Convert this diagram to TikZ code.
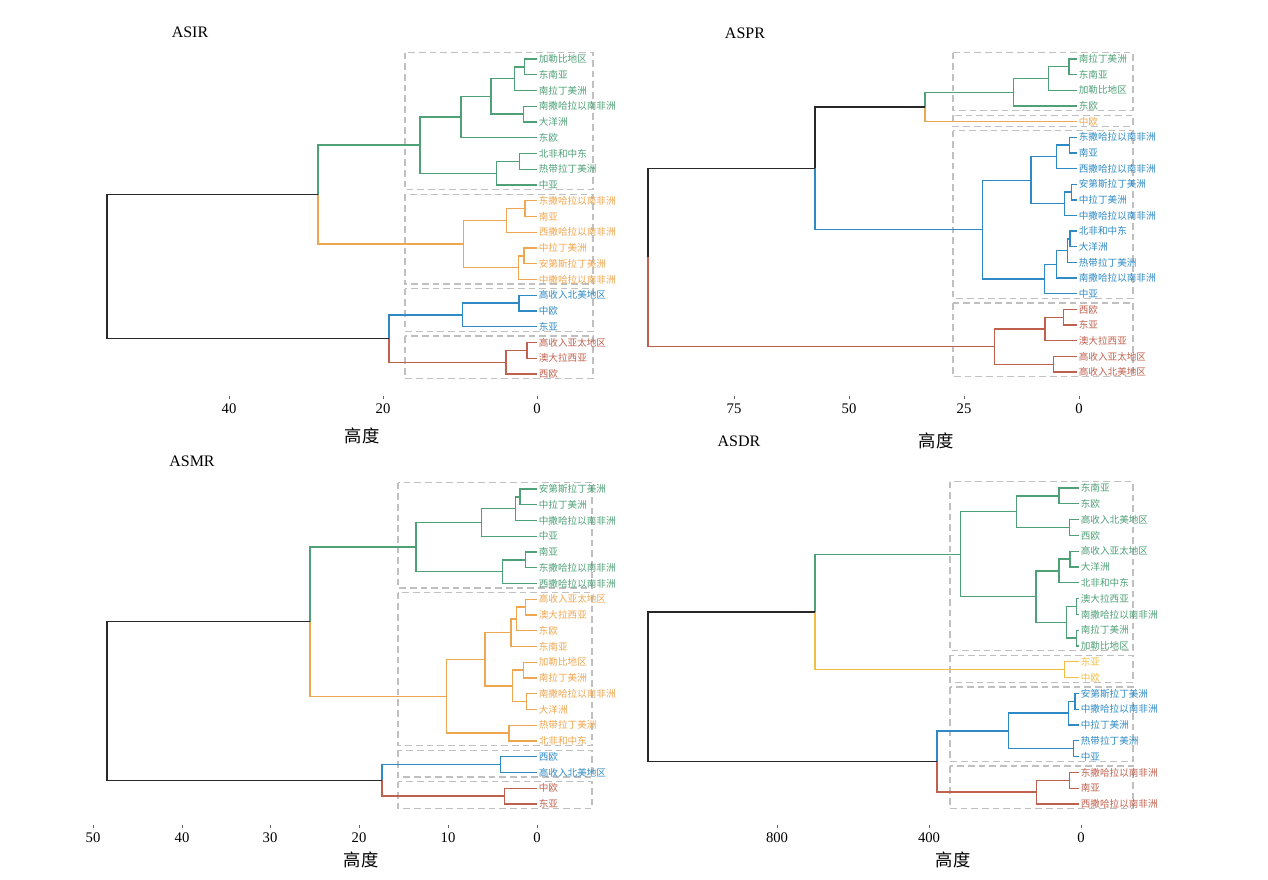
\documentclass[tikz,border=0pt]{standalone}
\usepackage{fontspec}
\setmainfont{Liberation Serif}
\newfontfamily\cjk{Noto Sans CJK SC}
\usetikzlibrary{calc}

\definecolor{grn}{RGB}{78,160,118}
\definecolor{org}{RGB}{238,166,80}
\definecolor{blu}{RGB}{46,138,196}
\definecolor{rdd}{RGB}{192,96,78}
\definecolor{yel}{RGB}{240,190,64}
\definecolor{blk}{RGB}{40,40,40}
\definecolor{boxgray}{RGB}{192,192,192}

% merge point of two branches: name, height (x), child, child
\newcommand{\joinpt}[4]{%
  \coordinate (#1c) at ($(#3)!.5!(#4)$);
  \coordinate (#1) at (#2,0 |- #1c);}

\begin{document}
\begin{tikzpicture}[x=0.75pt, y=-0.75pt]

   \tikzstyle{leaf}=[anchor=west, inner sep=1.2pt, font=\cjk\fontsize{7.2}{8}\selectfont]
   \tikzstyle{glink}=[draw=grn, line width=1pt]
   \tikzstyle{olink}=[draw=org, line width=1pt]
   \tikzstyle{blink}=[draw=blu, line width=1pt]
   \tikzstyle{rlink}=[draw=rdd, line width=1pt]
   \tikzstyle{ylink}=[draw=yel, line width=1pt]
   \tikzstyle{klink}=[draw=blk, line width=1.2pt]
   \tikzstyle{clus}=[draw=boxgray, line width=0.9pt, dash pattern=on 5pt off 3pt]
   \tikzstyle{title}=[font=\fontsize{12}{14}\selectfont]
   \tikzstyle{tick}=[font=\fontsize{11}{13}\selectfont]
   \tikzstyle{axis}=[font=\cjk\fontsize{13}{15}\selectfont]
   \tikzstyle{tickmark}=[draw=black!60, line width=0.6pt]

   \useasboundingbox (0,0) rectangle (1268,879);

   %%% ASIR
   \node[title] (irtitle) at (190,32) {ASIR};
   \draw[clus] (405,52.5) rectangle (593,189.5);
   \draw[clus] (405,194.25) rectangle (593,284);
   \draw[clus] (405,288.75) rectangle (593,331.25);
   \draw[clus] (405,336) rectangle (593,378.5);

   \node[leaf, text=grn] (irL0) at (537,59) {加勒比地区};
   \node[leaf, text=grn] (irL1) at (537,74.75) {东南亚};
   \node[leaf, text=grn] (irL2) at (537,90.5) {南拉丁美洲};
   \node[leaf, text=grn] (irL3) at (537,106.25) {南撒哈拉以南非洲};
   \node[leaf, text=grn] (irL4) at (537,122) {大洋洲};
   \node[leaf, text=grn] (irL5) at (537,137.75) {东欧};
   \node[leaf, text=grn] (irL6) at (537,153.5) {北非和中东};
   \node[leaf, text=grn] (irL7) at (537,169.25) {热带拉丁美洲};
   \node[leaf, text=grn] (irL8) at (537,185) {中亚};
   \node[leaf, text=org] (irL9) at (537,200.75) {东撒哈拉以南非洲};
   \node[leaf, text=org] (irL10) at (537,216.5) {南亚};
   \node[leaf, text=org] (irL11) at (537,232.25) {西撒哈拉以南非洲};
   \node[leaf, text=org] (irL12) at (537,248) {中拉丁美洲};
   \node[leaf, text=org] (irL13) at (537,263.75) {安第斯拉丁美洲};
   \node[leaf, text=org] (irL14) at (537,279.5) {中撒哈拉以南非洲};
   \node[leaf, text=blu] (irL15) at (537,295.25) {高收入北美地区};
   \node[leaf, text=blu] (irL16) at (537,311) {中欧};
   \node[leaf, text=blu] (irL17) at (537,326.75) {东亚};
   \node[leaf, text=rdd] (irL18) at (537,342.5) {高收入亚太地区};
   \node[leaf, text=rdd] (irL19) at (537,358.25) {澳大拉西亚};
   \node[leaf, text=rdd] (irL20) at (537,374) {西欧};

   \joinpt{ir1}{524.3}{irL0}{irL1}
   \joinpt{ir2}{514.3}{ir1}{irL2}
   \joinpt{ir3}{523.3}{irL3}{irL4}
   \joinpt{ir4}{491}{ir2}{ir3}
   \joinpt{ir5}{461}{ir4}{irL5}
   \joinpt{ir6}{519.3}{irL6}{irL7}
   \joinpt{ir7}{496.7}{ir6}{irL8}
   \joinpt{ir8}{420}{ir5}{ir7}
   \joinpt{ir9}{525}{irL9}{irL10}
   \joinpt{ir10}{506.7}{ir9}{irL11}
   \joinpt{ir11}{524}{irL12}{irL13}
   \joinpt{ir12}{518.3}{ir11}{irL14}
   \joinpt{ir13}{463.3}{ir10}{ir12}
   \joinpt{ir14}{519}{irL15}{irL16}
   \joinpt{ir15}{462.3}{ir14}{irL17}
   \joinpt{ir16}{527}{irL18}{irL19}
   \joinpt{ir17}{506}{ir16}{irL20}
   \joinpt{ir18}{318}{ir8}{ir13}
   \joinpt{ir19}{389}{ir15}{ir17}
   \joinpt{ir20}{107}{ir18}{ir19}

   \draw[glink] (ir1) |- (irL0.west) (ir1) |- (irL1.west) (ir2) |- (ir1) (ir2) |- (irL2.west)
      (ir3) |- (irL3.west) (ir3) |- (irL4.west) (ir4) |- (ir2) (ir4) |- (ir3)
      (ir5) |- (ir4) (ir5) |- (irL5.west) (ir6) |- (irL6.west) (ir6) |- (irL7.west)
      (ir7) |- (ir6) (ir7) |- (irL8.west) (ir8) |- (ir5) (ir8) |- (ir7) (ir18) |- (ir8);
   \draw[olink] (ir9) |- (irL9.west) (ir9) |- (irL10.west) (ir10) |- (ir9) (ir10) |- (irL11.west)
      (ir11) |- (irL12.west) (ir11) |- (irL13.west) (ir12) |- (ir11) (ir12) |- (irL14.west)
      (ir13) |- (ir10) (ir13) |- (ir12) (ir18) |- (ir13);
   \draw[blink] (ir14) |- (irL15.west) (ir14) |- (irL16.west) (ir15) |- (ir14) (ir15) |- (irL17.west)
      (ir19) |- (ir15);
   \draw[rlink] (ir16) |- (irL18.west) (ir16) |- (irL19.west) (ir17) |- (ir16) (ir17) |- (irL20.west)
      (ir19) |- (ir17);
   \draw[klink] (ir20) |- (ir18) (ir20) |- (ir19);

   \node[tick] (irt40) at (229,409) {40};
   \node[tick] (irt20) at (383,409) {20};
   \node[tick] (irt0) at (537,409) {0};
   \draw[tickmark] (229,396) -- (229,399) (383,396) -- (383,399) (537,396) -- (537,399);
   \node[axis] (irax) at (362,436) {高度};

   %%% ASPR
   \node[title] (prtitle) at (745,33) {ASPR};
   \draw[clus] (953,52.5) rectangle (1133,110.5);
   \draw[clus] (953,115.1) rectangle (1133,126.1);
   \draw[clus] (953,130.75) rectangle (1133,298.25);
   \draw[clus] (953,302.9) rectangle (1133,376.5);

   \node[leaf, text=grn] (prL0) at (1077,59) {南拉丁美洲};
   \node[leaf, text=grn] (prL1) at (1077,74.65) {东南亚};
   \node[leaf, text=grn] (prL2) at (1077,90.3) {加勒比地区};
   \node[leaf, text=grn] (prL3) at (1077,105.95) {东欧};
   \node[leaf, text=org] (prL4) at (1077,121.6) {中欧};
   \node[leaf, text=blu] (prL5) at (1077,137.25) {东撒哈拉以南非洲};
   \node[leaf, text=blu] (prL6) at (1077,152.9) {南亚};
   \node[leaf, text=blu] (prL7) at (1077,168.55) {西撒哈拉以南非洲};
   \node[leaf, text=blu] (prL8) at (1077,184.2) {安第斯拉丁美洲};
   \node[leaf, text=blu] (prL9) at (1077,199.85) {中拉丁美洲};
   \node[leaf, text=blu] (prL10) at (1077,215.5) {中撒哈拉以南非洲};
   \node[leaf, text=blu] (prL11) at (1077,231.15) {北非和中东};
   \node[leaf, text=blu] (prL12) at (1077,246.8) {大洋洲};
   \node[leaf, text=blu] (prL13) at (1077,262.45) {热带拉丁美洲};
   \node[leaf, text=blu] (prL14) at (1077,278.1) {南撒哈拉以南非洲};
   \node[leaf, text=blu] (prL15) at (1077,293.75) {中亚};
   \node[leaf, text=rdd] (prL16) at (1077,309.4) {西欧};
   \node[leaf, text=rdd] (prL17) at (1077,325.05) {东亚};
   \node[leaf, text=rdd] (prL18) at (1077,340.7) {澳大拉西亚};
   \node[leaf, text=rdd] (prL19) at (1077,356.35) {高收入亚太地区};
   \node[leaf, text=rdd] (prL20) at (1077,372) {高收入北美地区};

   \joinpt{pr1}{1069}{prL0}{prL1}
   \joinpt{pr2}{1048.3}{pr1}{prL2}
   \joinpt{pr3}{1013.3}{pr2}{prL3}
   \joinpt{pr4}{925}{pr3}{prL4}
   \joinpt{pr5}{1069.3}{prL5}{prL6}
   \joinpt{pr6}{1056.7}{pr5}{prL7}
   \joinpt{pr7}{1071.7}{prL8}{prL9}
   \joinpt{pr8}{1064.3}{pr7}{prL10}
   \joinpt{pr9}{1031}{pr6}{pr8}
   \joinpt{pr10}{1070}{prL11}{prL12}
   \joinpt{pr11}{1067.7}{pr10}{prL13}
   \joinpt{pr12}{1056.7}{pr11}{prL14}
   \joinpt{pr13}{1044.3}{pr12}{prL15}
   \joinpt{pr14}{982.3}{pr9}{pr13}
   \joinpt{pr15}{1063.3}{prL16}{prL17}
   \joinpt{pr16}{1045}{pr15}{prL18}
   \joinpt{pr17}{1053.3}{prL19}{prL20}
   \joinpt{pr18}{994.3}{pr16}{pr17}
   \joinpt{pr19}{815}{pr4}{pr14}
   \joinpt{pr20}{648}{pr19}{pr18}

   \draw[glink] (pr1) |- (prL0.west) (pr1) |- (prL1.west) (pr2) |- (pr1) (pr2) |- (prL2.west)
      (pr3) |- (pr2) (pr3) |- (prL3.west) (pr4) |- (pr3);
   \draw[olink] (pr4) |- (prL4.west);
   \draw[blink] (pr5) |- (prL5.west) (pr5) |- (prL6.west) (pr6) |- (pr5) (pr6) |- (prL7.west)
      (pr7) |- (prL8.west) (pr7) |- (prL9.west) (pr8) |- (pr7) (pr8) |- (prL10.west)
      (pr9) |- (pr6) (pr9) |- (pr8) (pr10) |- (prL11.west) (pr10) |- (prL12.west)
      (pr11) |- (pr10) (pr11) |- (prL13.west) (pr12) |- (pr11) (pr12) |- (prL14.west)
      (pr13) |- (pr12) (pr13) |- (prL15.west) (pr14) |- (pr9) (pr14) |- (pr13) (pr19) |- (pr14);
   \draw[rlink] (pr15) |- (prL16.west) (pr15) |- (prL17.west) (pr16) |- (pr15) (pr16) |- (prL18.west)
      (pr17) |- (prL19.west) (pr17) |- (prL20.west) (pr18) |- (pr16) (pr18) |- (pr17) (pr20) |- (pr18);
   \draw[klink] (pr19) |- (pr4) (pr20) |- (pr19);

   \node[tick] (prt75) at (734,409) {75};
   \node[tick] (prt50) at (849,409) {50};
   \node[tick] (prt25) at (964,409) {25};
   \node[tick] (prt0) at (1079,409) {0};
   \draw[tickmark] (734,396) -- (734,399) (849,396) -- (849,399) (964,396) -- (964,399) (1079,396) -- (1079,399);
   \node[axis] (prax) at (936,441) {高度};

   %%% ASMR
   \node[title] (mrtitle) at (192,461) {ASMR};
   \draw[clus] (398,482.5) rectangle (592,588);
   \draw[clus] (398,592.75) rectangle (592,745.5);
   \draw[clus] (398,750.25) rectangle (592,777);
   \draw[clus] (398,781.75) rectangle (592,808.5);

   \node[leaf, text=grn] (mrL0) at (537,489) {安第斯拉丁美洲};
   \node[leaf, text=grn] (mrL1) at (537,504.75) {中拉丁美洲};
   \node[leaf, text=grn] (mrL2) at (537,520.5) {中撒哈拉以南非洲};
   \node[leaf, text=grn] (mrL3) at (537,536.25) {中亚};
   \node[leaf, text=grn] (mrL4) at (537,552) {南亚};
   \node[leaf, text=grn] (mrL5) at (537,567.75) {东撒哈拉以南非洲};
   \node[leaf, text=grn] (mrL6) at (537,583.5) {西撒哈拉以南非洲};
   \node[leaf, text=org] (mrL7) at (537,599.25) {高收入亚太地区};
   \node[leaf, text=org] (mrL8) at (537,615) {澳大拉西亚};
   \node[leaf, text=org] (mrL9) at (537,630.75) {东欧};
   \node[leaf, text=org] (mrL10) at (537,646.5) {东南亚};
   \node[leaf, text=org] (mrL11) at (537,662.25) {加勒比地区};
   \node[leaf, text=org] (mrL12) at (537,678) {南拉丁美洲};
   \node[leaf, text=org] (mrL13) at (537,693.75) {南撒哈拉以南非洲};
   \node[leaf, text=org] (mrL14) at (537,709.5) {大洋洲};
   \node[leaf, text=org] (mrL15) at (537,725.25) {热带拉丁美洲};
   \node[leaf, text=org] (mrL16) at (537,741) {北非和中东};
   \node[leaf, text=blu] (mrL17) at (537,756.75) {西欧};
   \node[leaf, text=blu] (mrL18) at (537,772.5) {高收入北美地区};
   \node[leaf, text=rdd] (mrL19) at (537,788.25) {中欧};
   \node[leaf, text=rdd] (mrL20) at (537,804) {东亚};

   \joinpt{mr1}{520}{mrL0}{mrL1}
   \joinpt{mr2}{515.7}{mr1}{mrL2}
   \joinpt{mr3}{481.7}{mr2}{mrL3}
   \joinpt{mr4}{525.7}{mrL4}{mrL5}
   \joinpt{mr5}{502.3}{mr4}{mrL6}
   \joinpt{mr6}{416}{mr3}{mr5}
   \joinpt{mr7}{525.7}{mrL7}{mrL8}
   \joinpt{mr8}{516.7}{mr7}{mrL9}
   \joinpt{mr9}{511}{mr8}{mrL10}
   \joinpt{mr10}{523.3}{mrL11}{mrL12}
   \joinpt{mr11}{526.7}{mrL13}{mrL14}
   \joinpt{mr12}{512.7}{mr10}{mr11}
   \joinpt{mr13}{485}{mr9}{mr12}
   \joinpt{mr14}{509}{mrL15}{mrL16}
   \joinpt{mr15}{446.7}{mr13}{mr14}
   \joinpt{mr16}{500.7}{mrL17}{mrL18}
   \joinpt{mr17}{504.3}{mrL19}{mrL20}
   \joinpt{mr18}{310}{mr6}{mr15}
   \joinpt{mr19}{382}{mr16}{mr17}
   \joinpt{mr20}{107}{mr18}{mr19}

   \draw[glink] (mr1) |- (mrL0.west) (mr1) |- (mrL1.west) (mr2) |- (mr1) (mr2) |- (mrL2.west)
      (mr3) |- (mr2) (mr3) |- (mrL3.west) (mr4) |- (mrL4.west) (mr4) |- (mrL5.west)
      (mr5) |- (mr4) (mr5) |- (mrL6.west) (mr6) |- (mr3) (mr6) |- (mr5) (mr18) |- (mr6);
   \draw[olink] (mr7) |- (mrL7.west) (mr7) |- (mrL8.west) (mr8) |- (mr7) (mr8) |- (mrL9.west)
      (mr9) |- (mr8) (mr9) |- (mrL10.west) (mr10) |- (mrL11.west) (mr10) |- (mrL12.west)
      (mr11) |- (mrL13.west) (mr11) |- (mrL14.west) (mr12) |- (mr10) (mr12) |- (mr11)
      (mr13) |- (mr9) (mr13) |- (mr12) (mr14) |- (mrL15.west) (mr14) |- (mrL16.west)
      (mr15) |- (mr13) (mr15) |- (mr14) (mr18) |- (mr15);
   \draw[blink] (mr16) |- (mrL17.west) (mr16) |- (mrL18.west) (mr19) |- (mr16);
   \draw[rlink] (mr17) |- (mrL19.west) (mr17) |- (mrL20.west) (mr19) |- (mr17);
   \draw[klink] (mr20) |- (mr18) (mr20) |- (mr19);

   \node[tick] (mrt50) at (93,838) {50};
   \node[tick] (mrt40) at (182,838) {40};
   \node[tick] (mrt30) at (270,838) {30};
   \node[tick] (mrt20) at (359,838) {20};
   \node[tick] (mrt10) at (448,838) {10};
   \node[tick] (mrt0) at (537,838) {0};
   \draw[tickmark] (93,825) -- (93,828) (182,825) -- (182,828) (270,825) -- (270,828)
      (359,825) -- (359,828) (448,825) -- (448,828) (537,825) -- (537,828);
   \node[axis] (mrax) at (361,860) {高度};

   %%% ASDR
   \node[title] (drtitle) at (739,441) {ASDR};
   \draw[clus] (950,481.5) rectangle (1133,650.5);
   \draw[clus] (950,655.3) rectangle (1133,682.1);
   \draw[clus] (950,686.9) rectangle (1133,761.1);
   \draw[clus] (950,765.9) rectangle (1133,808.5);

   \node[leaf, text=grn] (drL0) at (1079,488) {东南亚};
   \node[leaf, text=grn] (drL1) at (1079,503.8) {东欧};
   \node[leaf, text=grn] (drL2) at (1079,519.6) {高收入北美地区};
   \node[leaf, text=grn] (drL3) at (1079,535.4) {西欧};
   \node[leaf, text=grn] (drL4) at (1079,551.2) {高收入亚太地区};
   \node[leaf, text=grn] (drL5) at (1079,567) {大洋洲};
   \node[leaf, text=grn] (drL6) at (1079,582.8) {北非和中东};
   \node[leaf, text=grn] (drL7) at (1079,598.6) {澳大拉西亚};
   \node[leaf, text=grn] (drL8) at (1079,614.4) {南撒哈拉以南非洲};
   \node[leaf, text=grn] (drL9) at (1079,630.2) {南拉丁美洲};
   \node[leaf, text=grn] (drL10) at (1079,646) {加勒比地区};
   \node[leaf, text=yel] (drL11) at (1079,661.8) {东亚};
   \node[leaf, text=yel] (drL12) at (1079,677.6) {中欧};
   \node[leaf, text=blu] (drL13) at (1079,693.4) {安第斯拉丁美洲};
   \node[leaf, text=blu] (drL14) at (1079,709.2) {中撒哈拉以南非洲};
   \node[leaf, text=blu] (drL15) at (1079,725) {中拉丁美洲};
   \node[leaf, text=blu] (drL16) at (1079,740.8) {热带拉丁美洲};
   \node[leaf, text=blu] (drL17) at (1079,756.6) {中亚};
   \node[leaf, text=rdd] (drL18) at (1079,772.4) {东撒哈拉以南非洲};
   \node[leaf, text=rdd] (drL19) at (1079,788.2) {南亚};
   \node[leaf, text=rdd] (drL20) at (1079,804) {西撒哈拉以南非洲};

   \joinpt{dr1}{1059}{drL0}{drL1}
   \joinpt{dr2}{1069.3}{drL2}{drL3}
   \joinpt{dr3}{1016.7}{dr1}{dr2}
   \joinpt{dr4}{1070}{drL4}{drL5}
   \joinpt{dr5}{1059}{dr4}{drL6}
   \joinpt{dr6}{1076.5}{drL7}{drL8}
   \joinpt{dr7}{1076.5}{drL9}{drL10}
   \joinpt{dr8}{1066.7}{dr6}{dr7}
   \joinpt{dr9}{1036}{dr5}{dr8}
   \joinpt{dr10}{960.7}{dr3}{dr9}
   \joinpt{dr11}{1064.3}{drL11}{drL12}
   \joinpt{dr12}{1075}{drL13}{drL14}
   \joinpt{dr13}{1068.3}{dr12}{drL15}
   \joinpt{dr14}{1073.3}{drL16}{drL17}
   \joinpt{dr15}{1008.3}{dr13}{dr14}
   \joinpt{dr16}{1069.3}{drL18}{drL19}
   \joinpt{dr17}{1036.7}{dr16}{drL20}
   \joinpt{dr18}{815}{dr10}{dr11}
   \joinpt{dr19}{937}{dr15}{dr17}
   \joinpt{dr20}{648}{dr18}{dr19}

   \draw[glink] (dr1) |- (drL0.west) (dr1) |- (drL1.west) (dr2) |- (drL2.west) (dr2) |- (drL3.west)
      (dr3) |- (dr1) (dr3) |- (dr2) (dr4) |- (drL4.west) (dr4) |- (drL5.west)
      (dr5) |- (dr4) (dr5) |- (drL6.west) (dr6) |- (drL7.west) (dr6) |- (drL8.west)
      (dr7) |- (drL9.west) (dr7) |- (drL10.west) (dr8) |- (dr6) (dr8) |- (dr7)
      (dr9) |- (dr5) (dr9) |- (dr8) (dr10) |- (dr3) (dr10) |- (dr9) (dr18) |- (dr10);
   \draw[ylink] (dr11) |- (drL11.west) (dr11) |- (drL12.west) (dr18) |- (dr11);
   \draw[blink] (dr12) |- (drL13.west) (dr12) |- (drL14.west) (dr13) |- (dr12) (dr13) |- (drL15.west)
      (dr14) |- (drL16.west) (dr14) |- (drL17.west) (dr15) |- (dr13) (dr15) |- (dr14) (dr19) |- (dr15);
   \draw[rlink] (dr16) |- (drL18.west) (dr16) |- (drL19.west) (dr17) |- (dr16) (dr17) |- (drL20.west)
      (dr19) |- (dr17);
   \draw[klink] (dr20) |- (dr18) (dr20) |- (dr19);

   \node[tick] (drt800) at (777,838) {800};
   \node[tick] (drt400) at (929,838) {400};
   \node[tick] (drt0) at (1081,838) {0};
   \draw[tickmark] (777,825) -- (777,828) (929,825) -- (929,828) (1081,825) -- (1081,828);
   \node[axis] (drax) at (953,860) {高度};

\end{tikzpicture}
\end{document}
